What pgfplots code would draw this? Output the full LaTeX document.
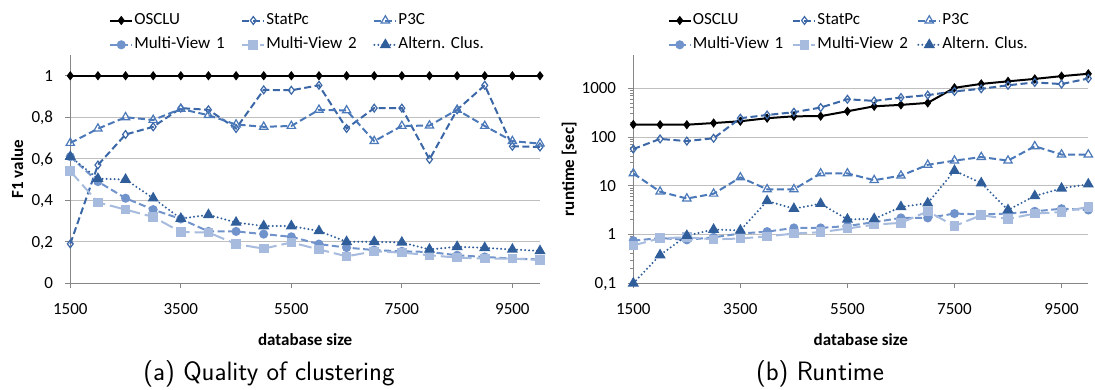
\documentclass[border=0pt]{standalone}
\usepackage{fontspec}
\setmainfont{Carlito}
\usepackage{pgfplots}
\usepackage{pgfplotstable}
\pgfplotsset{compat=1.18}
\frenchspacing
\definecolor{axisgray}{HTML}{868686}
\definecolor{gridgray}{HTML}{BFBFBF}
\definecolor{statc}{HTML}{3B67A7}
\definecolor{p3cc}{HTML}{4A78B8}
\definecolor{mvonec}{HTML}{7193CB}
\definecolor{mvtwoc}{HTML}{A6BBDD}
\definecolor{altc}{HTML}{2F5E9A}

\pgfplotstableread{
x osclu statpc p3c mvone mvtwo alt
1500 1 0.19 0.676 0.61 0.54 0.61
2000 1 0.57 0.745 0.49 0.39 0.504
2500 1 0.717 0.80 0.41 0.355 0.50
3000 1 0.754 0.787 0.355 0.32 0.41
3500 1 0.844 0.84 0.31 0.247 0.312
4000 1 0.836 0.81 0.25 0.245 0.33
4500 1 0.746 0.765 0.25 0.189 0.293
5000 1 0.932 0.754 0.237 0.167 0.276
5500 1 0.930 0.758 0.224 0.197 0.276
6000 1 0.954 0.836 0.189 0.163 0.252
6500 1 0.746 0.833 0.172 0.13 0.20
7000 1 0.844 0.685 0.16 0.154 0.20
7500 1 0.844 0.758 0.154 0.148 0.197
8000 1 0.597 0.76 0.151 0.135 0.163
8500 1 0.836 0.836 0.135 0.124 0.176
9000 1 0.954 0.758 0.127 0.119 0.171
9500 1 0.66 0.685 0.119 0.119 0.163
10000 1 0.657 0.673 0.115 0.112 0.156
}\quality

\pgfplotstableread{
x osclu statpc p3c mvone mvtwo alt
1500 182 57 18 0.75 0.6 0.1
2000 180 92 7.6 0.85 0.84 0.38
2500 180 83 5.5 0.78 0.88 0.95
3000 195 95 6.9 0.88 0.8 1.27
3500 212 245 14.9 1.05 0.83 1.22
4000 245 285 8.5 1.15 0.92 4.9
4500 268 325 8.5 1.37 1.05 3.4
5000 270 405 18 1.37 1.12 4.3
5500 340 600 18 1.5 1.33 2.05
6000 430 555 13.1 1.8 1.6 2.1
6500 460 650 16.2 2.2 1.74 3.7
7000 505 730 27 2.2 3.0 4.4
7500 1030 870 33 2.7 1.5 20.5
8000 1240 985 39 2.6 2.5 11.4
8500 1400 1160 33 2.7 2.1 3.2
9000 1570 1330 65 3.0 2.7 6.2
9500 1790 1230 44 3.4 2.9 8.9
10000 2000 1600 44 3.2 3.7 10.8
}\runtime

\pgfplotsset{
  legend image code/.code={\draw[mark repeat=2,mark phase=2,#1] plot coordinates {(0bp,0bp) (11bp,0bp) (22bp,0bp)};},
  myaxis/.style={
    scale only axis, height=228.3bp,
    axis lines=left, axis line style={-, draw=axisgray, line width=1bp},
    xmin=1500, xmax=10000,
    xtick={1500,3500,5500,7500,9500},
    xticklabels={1500,3500,5500,7500,9500},
    scaled x ticks=false, scaled y ticks=false,
    tick align=outside, major tick length=5bp,
    tick style={draw=axisgray, line width=1bp},
    ymajorgrids, grid style={draw=gridgray, line width=1bp},
    ticklabel style={font=\fontsize{17bp}{20bp}\selectfont},
    xticklabel style={anchor=north, inner sep=0pt, text height=10.7bp, text depth=0pt, yshift=-15bp},
    yticklabel style={anchor=east, inner sep=0pt, text height=10.7bp, text depth=0pt, xshift=-12bp},
    label style={font=\bfseries\fontsize{17bp}{20bp}\selectfont, inner sep=0pt},
    clip=false,
    legend columns=3,
    legend style={draw=none, fill=none, inner sep=0pt, outer sep=0pt, anchor=north west,
      font=\fontsize{17bp}{20bp}\selectfont, /tikz/column sep=0pt, /tikz/row sep=6.3bp,
      nodes={inner sep=1bp, text height=12bp, text depth=4bp}},
    legend cell align=left,
  },
  osclustyle/.style={black, line width=2bp, mark=diamond*, mark size=3.9bp, mark options={solid, fill=black, line width=1bp}},
  statstyle/.style={statc, line width=2bp, dash pattern=on 7bp off 3.5bp, mark=diamond, mark size=3.9bp, mark options={solid, fill=white, line width=1.2bp}},
  p3cstyle/.style={p3cc, line width=2bp, dash pattern=on 7bp off 3.5bp, mark=triangle, mark size=4.8bp, mark options={solid, fill=white, line width=1.2bp}},
  mvonestyle/.style={mvonec, line width=2bp, dash pattern=on 7bp off 3.5bp, mark=*, mark size=3.5bp, mark options={solid, fill=mvonec, draw=mvonec}},
  mvtwostyle/.style={mvtwoc, line width=2bp, dash pattern=on 13bp off 5bp, mark=square*, mark size=3.8bp, mark options={solid, fill=mvtwoc, draw=mvtwoc}},
  altstyle/.style={altc, line width=2.2bp, line cap=round, dash pattern=on 0bp off 4bp, mark=triangle*, mark size=4.3bp, mark options={solid, fill=altc, draw=altc}},
}

\begin{document}
\begin{tikzpicture}
\useasboundingbox (0,0) rectangle (1095bp,390bp);

\begin{axis}[myaxis, at={(70.3bp,106.7bp)}, anchor=south west, width=469.7bp,
  ymin=0, ymax=1.1, ytick={0,0.2,0.4,0.6,0.8,1},
  yticklabels={0,{0,2},{0,4},{0,6},{0,8},1},
  xlabel={database size}, ylabel={F1 value},
  xlabel style={at={(axis description cs:0.5,-0.2453)}, anchor=center},
  ylabel style={at={(axis description cs:-0.1128,0.5)}, anchor=center},
  legend style={at={(axis description cs:0.083,1.1905)}},
  legend style={nodes={text width=106bp}},
]
\addplot[osclustyle] table[x=x,y=osclu] {\quality};
\addplot[statstyle] table[x=x,y=statpc] {\quality};
\addplot[p3cstyle] table[x=x,y=p3c] {\quality};
\addplot[mvonestyle] table[x=x,y=mvone] {\quality};
\addplot[mvtwostyle] table[x=x,y=mvtwo] {\quality};
\addplot[altstyle] table[x=x,y=alt] {\quality};
\legend{OSCLU,StatPc,P3C,Multi-View 1,Multi-View 2,Altern. Clus.}
\end{axis}

\begin{axis}[myaxis, at={(633.3bp,106.7bp)}, anchor=south west, width=455bp,
  ymode=log, ymin=0.1, ymax=4860, ytick={0.1,1,10,100,1000},
  yticklabels={{0,1},1,10,100,1000},
  xlabel={database size}, ylabel={runtime [sec]},
  xlabel style={at={(axis description cs:0.5,-0.2453)}, anchor=center},
  ylabel style={at={(axis description cs:-0.1407,0.5)}, anchor=center},
  legend style={at={(axis description cs:0.0758,1.1905)}},
  legend style={nodes={text width=98.7bp}},
]
\addplot[osclustyle] table[x=x,y=osclu] {\runtime};
\addplot[statstyle] table[x=x,y=statpc] {\runtime};
\addplot[p3cstyle] table[x=x,y=p3c] {\runtime};
\addplot[mvonestyle] table[x=x,y=mvone] {\runtime};
\addplot[mvtwostyle] table[x=x,y=mvtwo] {\runtime};
\addplot[altstyle] table[x=x,y=alt] {\runtime};
\legend{OSCLU,StatPc,P3C,Multi-View 1,Multi-View 2,Altern. Clus.}
\end{axis}

\node[anchor=base, inner sep=0pt, font=\sffamily\fontsize{26.6bp}{30bp}\selectfont] at (269bp,9.3bp) {(a) Quality of clustering};
\node[anchor=base, inner sep=0pt, font=\sffamily\fontsize{26.6bp}{30bp}\selectfont] at (820bp,9.3bp) {(b) Runtime};
\end{tikzpicture}
\end{document}
